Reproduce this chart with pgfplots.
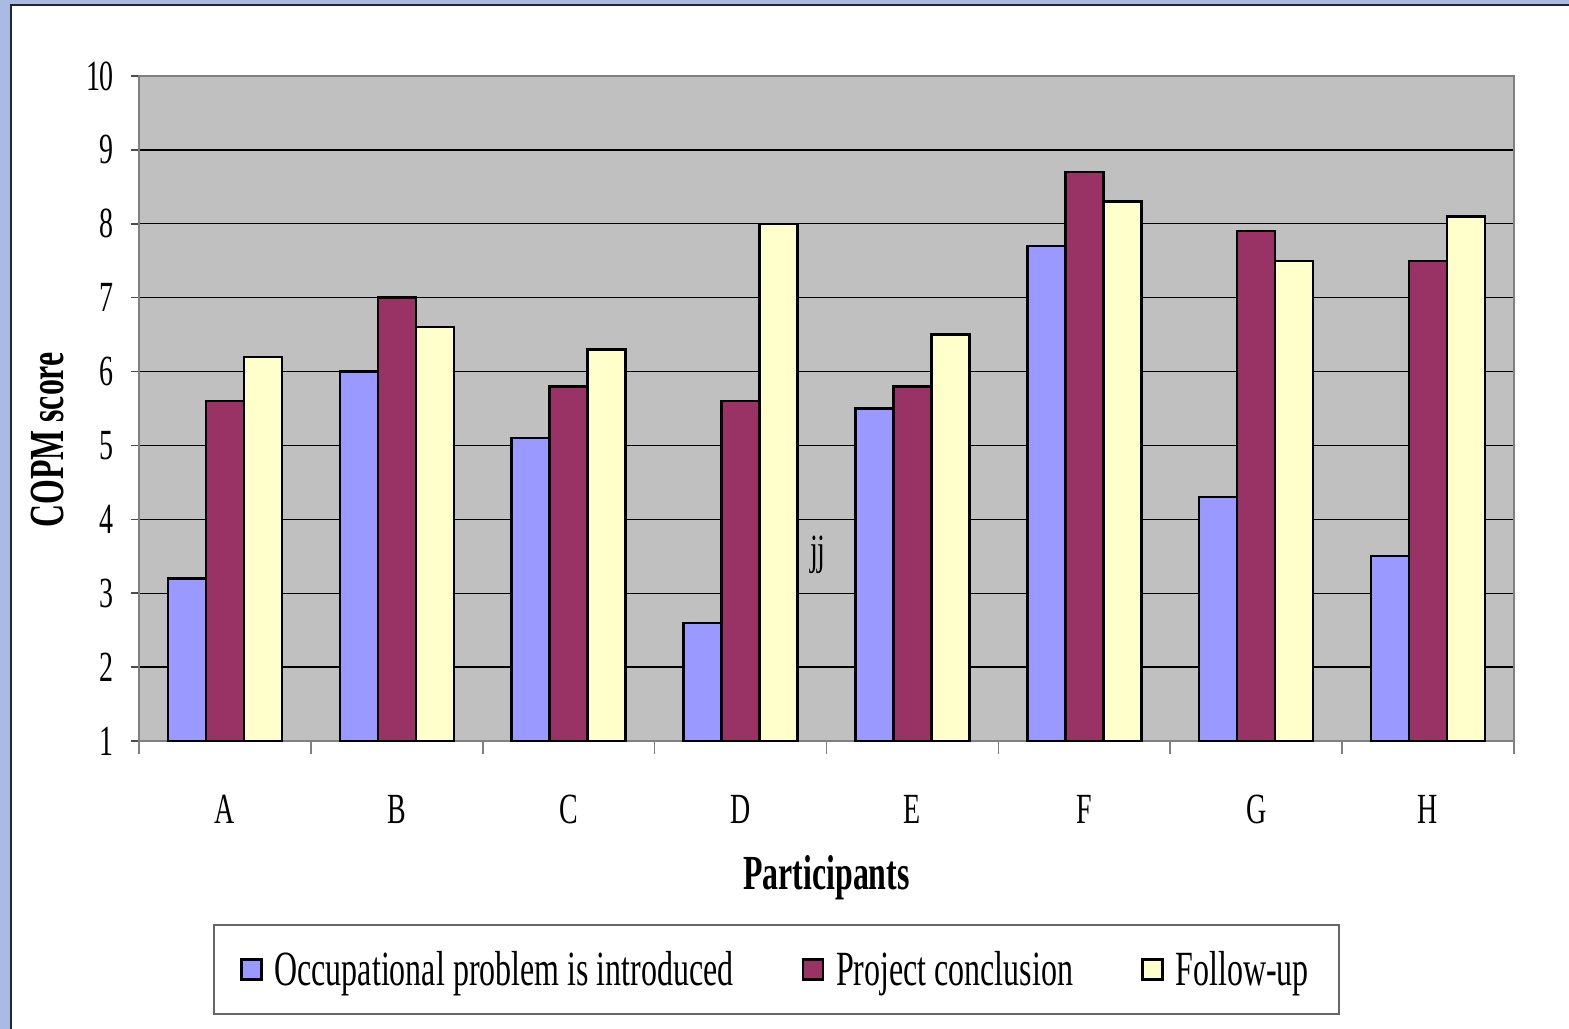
\documentclass[border=0pt]{standalone}
\usepackage{fontspec}
\setmainfont{Liberation Serif}[FakeStretch=0.65]
\usepackage{pgfplots}
\pgfplotsset{compat=1.18}
\definecolor{cblue}{HTML}{9999FF}
\definecolor{cmaroon}{HTML}{993366}
\definecolor{cyellow}{HTML}{FFFFCC}
\definecolor{plotgray}{HTML}{C0C0C0}
\definecolor{framebl}{HTML}{AABBE3}
\definecolor{frameline}{HTML}{23233A}
\begin{document}
\begin{tikzpicture}
\fill[framebl] (-69.5bp,-144bp) rectangle (715bp,370.5bp);
\fill[white] (-63.5bp,-144bp) rectangle (715bp,368bp);
\draw[frameline, line width=1.2bp] (-64bp,-144bp) -- (-64bp,368bp) -- (715bp,368bp);
\begin{axis}[
  at={(0,0)}, anchor=south west,
  scale only axis, width=687.5bp, height=332.5bp,
  ybar=0pt, bar width=19bp,
  xmin=-0.5, xmax=7.5, ymin=1, ymax=10,
  xtick={0,...,7}, xticklabels={A,B,C,D,E,F,G,H},
  minor xtick={-0.5,0.5,...,7.5},
  ytick={1,...,10},
  tick pos=left,
  ymajorgrids, major grid style={black, line width=0.7bp},
  axis background/.style={fill=plotgray},
  axis line style={draw=black!50, line width=1.2bp},
  tick align=outside,
  major tick length=4bp, minor tick length=6.5bp,
  major x tick style={draw=none},
  minor x tick style={draw=black!50, line width=0.8bp},
  major y tick style={draw=black!70, line width=0.8bp},
  /pgf/number format/assume math mode=true,
  tick label style={font=\fontsize{21.5bp}{24bp}\selectfont},
  xticklabel style={yshift=-19.5bp},
  yticklabel style={xshift=-5bp},
  label style={font=\fontsize{24.5bp}{28bp}\selectfont\bfseries},
  xlabel={Participants}, ylabel={COPM score},
  x label style={at={(axis description cs:0.5,-0.205)}, anchor=center},
  y label style={at={(axis description cs:-0.0662,0.4526)}, anchor=center},
  legend columns=3,
  legend cell align=left,
  legend style={at={(0.4636,-0.3436)}, anchor=center, draw=black!60, line width=0.75bp,
    font=\fontsize{24.6bp}{28bp}\selectfont,
    inner xsep=13bp, inner ysep=11bp,
    /tikz/every odd column/.append style={column sep=4bp},
    /tikz/every even column/.append style={column sep=32bp}},
]
\addplot[fill=cblue, draw=black, line width=1.2bp,
  legend image code/.code={\draw[fill=cblue, draw=black, line width=1.2bp] (0bp,-5bp) rectangle (10bp,5bp);}]
  coordinates {(0,3.2)(1,6.0)(2,5.1)(3,2.6)(4,5.5)(5,7.7)(6,4.3)(7,3.5)};
\addlegendentry{Occupational problem is introduced}
\addplot[fill=cmaroon, draw=black, line width=1.2bp,
  legend image code/.code={\draw[fill=cmaroon, draw=black, line width=1.2bp] (0bp,-5bp) rectangle (10bp,5bp);}]
  coordinates {(0,5.6)(1,7.0)(2,5.8)(3,5.6)(4,5.8)(5,8.7)(6,7.9)(7,7.5)};
\addlegendentry{Project conclusion}
\addplot[fill=cyellow, draw=black, line width=1.2bp,
  legend image code/.code={\draw[fill=cyellow, draw=black, line width=1.2bp] (0bp,-5bp) rectangle (10bp,5bp);}]
  coordinates {(0,6.2)(1,6.6)(2,6.3)(3,8.0)(4,6.5)(5,8.3)(6,7.5)(7,8.1)};
\addlegendentry{Follow-up}
\node[font=\fontsize{21.5bp}{24bp}\selectfont] at (axis cs:3.45,3.52) {jj};
\end{axis}
\pgfresetboundingbox
\path (-69.5bp,-144bp) rectangle (715bp,370.5bp);
\end{tikzpicture}
\end{document}
